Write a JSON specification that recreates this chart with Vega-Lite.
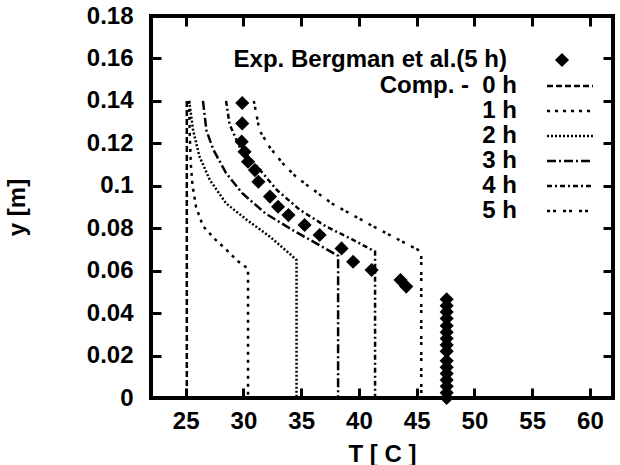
{
  "$schema": "https://vega.github.io/schema/vega-lite/v6.json",
  "width": 462,
  "height": 382,
  "autosize": {"type": "none"},
  "padding": {"left": 151, "top": 16, "right": 7, "bottom": 67},
  "background": "white",
  "config": {
    "font": "Liberation Sans",
    "view": {"stroke": "black", "strokeWidth": 4},
    "axis": {
      "labelFont": "Liberation Sans",
      "labelFontSize": 24,
      "labelFontWeight": "bold",
      "labelColor": "black",
      "titleFont": "Liberation Sans",
      "titleFontSize": 24,
      "titleFontWeight": "bold",
      "titleColor": "black",
      "grid": false,
      "domain": false,
      "ticks": true,
      "tickColor": "black",
      "tickOpacity": 1,
      "tickWidth": 3,
      "tickSize": 10,
      "offset": -10,
      "zindex": 2
    },
    "legend": {
      "labelFont": "Liberation Sans",
      "labelFontSize": 24,
      "labelFontWeight": "bold",
      "labelColor": "black",
      "labelAlign": "right",
      "labelLimit": 400,
      "padding": 0
    }
  },
  "datasets": {
    "comp": [
      {"run": "Comp. -\u00a0 0 h", "T": 25.1, "y": 0.14},
      {"run": "Comp. -\u00a0 0 h", "T": 25.1, "y": 0.0},

      {"run": "1 h", "T": 25.3, "y": 0.14},
      {"run": "1 h", "T": 25.35, "y": 0.125},
      {"run": "1 h", "T": 25.45, "y": 0.11},
      {"run": "1 h", "T": 25.6, "y": 0.1},
      {"run": "1 h", "T": 25.9, "y": 0.09},
      {"run": "1 h", "T": 26.5, "y": 0.081},
      {"run": "1 h", "T": 27.6, "y": 0.0745},
      {"run": "1 h", "T": 28.5, "y": 0.07},
      {"run": "1 h", "T": 29.5, "y": 0.0645},
      {"run": "1 h", "T": 30.4, "y": 0.061},
      {"run": "1 h", "T": 30.4, "y": 0.0},

      {"run": "2 h", "T": 25.3, "y": 0.14},
      {"run": "2 h", "T": 25.65, "y": 0.126},
      {"run": "2 h", "T": 26.2, "y": 0.1137},
      {"run": "2 h", "T": 27.1, "y": 0.1027},
      {"run": "2 h", "T": 28.5, "y": 0.0917},
      {"run": "2 h", "T": 30.3, "y": 0.0839},
      {"run": "2 h", "T": 32.3, "y": 0.076},
      {"run": "2 h", "T": 34.0, "y": 0.068},
      {"run": "2 h", "T": 34.6, "y": 0.065},
      {"run": "2 h", "T": 34.6, "y": 0.0},

      {"run": "3 h", "T": 26.5, "y": 0.14},
      {"run": "3 h", "T": 26.8, "y": 0.126},
      {"run": "3 h", "T": 27.4, "y": 0.117},
      {"run": "3 h", "T": 28.5, "y": 0.106},
      {"run": "3 h", "T": 29.9, "y": 0.0965},
      {"run": "3 h", "T": 31.9, "y": 0.087},
      {"run": "3 h", "T": 34.3, "y": 0.079},
      {"run": "3 h", "T": 36.3, "y": 0.0729},
      {"run": "3 h", "T": 38.2, "y": 0.067},
      {"run": "3 h", "T": 38.2, "y": 0.0},

      {"run": "4 h", "T": 28.5, "y": 0.14},
      {"run": "4 h", "T": 28.8, "y": 0.129},
      {"run": "4 h", "T": 29.7, "y": 0.118},
      {"run": "4 h", "T": 31.2, "y": 0.109},
      {"run": "4 h", "T": 32.9, "y": 0.098},
      {"run": "4 h", "T": 34.9, "y": 0.0886},
      {"run": "4 h", "T": 37.2, "y": 0.0807},
      {"run": "4 h", "T": 39.5, "y": 0.0745},
      {"run": "4 h", "T": 41.4, "y": 0.069},
      {"run": "4 h", "T": 41.4, "y": 0.0},

      {"run": "5 h", "T": 30.9, "y": 0.14},
      {"run": "5 h", "T": 31.4, "y": 0.126},
      {"run": "5 h", "T": 32.3, "y": 0.118},
      {"run": "5 h", "T": 33.4, "y": 0.1106},
      {"run": "5 h", "T": 34.6, "y": 0.104},
      {"run": "5 h", "T": 37.7, "y": 0.0915},
      {"run": "5 h", "T": 41.3, "y": 0.0807},
      {"run": "5 h", "T": 45.4, "y": 0.069},
      {"run": "5 h", "T": 45.4, "y": 0.0}
    ],
    "exp": [
      {"src": "Exp. Bergman et al.(5 h)", "T": 29.9, "y": 0.139},
      {"src": "Exp. Bergman et al.(5 h)", "T": 29.9, "y": 0.1294},
      {"src": "Exp. Bergman et al.(5 h)", "T": 29.85, "y": 0.1208},
      {"src": "Exp. Bergman et al.(5 h)", "T": 30.1, "y": 0.116},
      {"src": "Exp. Bergman et al.(5 h)", "T": 30.4, "y": 0.1113},
      {"src": "Exp. Bergman et al.(5 h)", "T": 31.0, "y": 0.1074},
      {"src": "Exp. Bergman et al.(5 h)", "T": 31.3, "y": 0.1019},
      {"src": "Exp. Bergman et al.(5 h)", "T": 32.3, "y": 0.0949},
      {"src": "Exp. Bergman et al.(5 h)", "T": 33.0, "y": 0.0901},
      {"src": "Exp. Bergman et al.(5 h)", "T": 33.9, "y": 0.0862},
      {"src": "Exp. Bergman et al.(5 h)", "T": 35.3, "y": 0.0815},
      {"src": "Exp. Bergman et al.(5 h)", "T": 36.6, "y": 0.0768},
      {"src": "Exp. Bergman et al.(5 h)", "T": 38.5, "y": 0.0705},
      {"src": "Exp. Bergman et al.(5 h)", "T": 39.5, "y": 0.0642},
      {"src": "Exp. Bergman et al.(5 h)", "T": 41.1, "y": 0.0603},
      {"src": "Exp. Bergman et al.(5 h)", "T": 43.6, "y": 0.0556},
      {"src": "Exp. Bergman et al.(5 h)", "T": 44.1, "y": 0.0525},
      {"src": "Exp. Bergman et al.(5 h)", "T": 47.6, "y": 0.0465},
      {"src": "Exp. Bergman et al.(5 h)", "T": 47.6, "y": 0.0435},
      {"src": "Exp. Bergman et al.(5 h)", "T": 47.6, "y": 0.0405},
      {"src": "Exp. Bergman et al.(5 h)", "T": 47.6, "y": 0.0375},
      {"src": "Exp. Bergman et al.(5 h)", "T": 47.6, "y": 0.034},
      {"src": "Exp. Bergman et al.(5 h)", "T": 47.6, "y": 0.031},
      {"src": "Exp. Bergman et al.(5 h)", "T": 47.6, "y": 0.028},
      {"src": "Exp. Bergman et al.(5 h)", "T": 47.6, "y": 0.025},
      {"src": "Exp. Bergman et al.(5 h)", "T": 47.6, "y": 0.022},
      {"src": "Exp. Bergman et al.(5 h)", "T": 47.6, "y": 0.0175},
      {"src": "Exp. Bergman et al.(5 h)", "T": 47.6, "y": 0.0145},
      {"src": "Exp. Bergman et al.(5 h)", "T": 47.6, "y": 0.0115},
      {"src": "Exp. Bergman et al.(5 h)", "T": 47.6, "y": 0.0085},
      {"src": "Exp. Bergman et al.(5 h)", "T": 47.6, "y": 0.0055},
      {"src": "Exp. Bergman et al.(5 h)", "T": 47.6, "y": 0.0025},
      {"src": "Exp. Bergman et al.(5 h)", "T": 47.6, "y": 0.0}
    ]
  },
  "layer": [
    {
      "data": {"name": "comp"},
      "mark": {"type": "line", "stroke": "black", "strokeWidth": 2.5, "strokeCap": "butt", "clip": true},
      "encoding": {
        "x": {
          "field": "T", "type": "quantitative",
          "scale": {"domain": [22, 62], "nice": false, "zero": false},
          "axis": {"values": [25, 30, 35, 40, 45, 50, 55, 60], "title": "T [ C ]", "labelPadding": 11, "titlePadding": 9}
        },
        "y": {
          "field": "y", "type": "quantitative",
          "scale": {"domain": [0, 0.18], "nice": false, "zero": false},
          "axis": {"values": [0, 0.02, 0.04, 0.06, 0.08, 0.1, 0.12, 0.14, 0.16, 0.18], "format": "~g", "title": "y [m]", "labelPadding": 18, "titlePadding": 57}
        },
        "strokeDash": {
          "field": "run", "type": "nominal",
          "scale": {
            "domain": ["Comp. -\u00a0 0 h", "1 h", "2 h", "3 h", "4 h", "5 h"],
            "range": [[6, 3], [3, 5], [2, 2], [9, 3, 2, 3], [5, 3, 2, 3], [3, 3, 3, 7]]
          },
          "legend": {
            "title": null, "orient": "none", "legendX": 407, "legendY": 58,
            "symbolType": "M-4,0H4", "symbolSize": 132, "symbolStrokeWidth": 2.5,
            "symbolStrokeColor": "black", "symbolFillColor": "transparent",
            "labelOffset": -65, "rowPadding": 1
          }
        },
        "order": {"field": "y", "sort": "descending"}
      }
    },
    {
      "data": {"name": "exp"},
      "mark": {"type": "point", "shape": "diamond", "filled": true, "color": "black", "opacity": 1, "size": 200, "strokeWidth": 0},
      "encoding": {
        "x": {
          "field": "T", "type": "quantitative",
          "axis": {"orient": "top", "values": [25, 30, 35, 40, 45, 50, 55, 60], "labels": false, "title": null}
        },
        "y": {
          "field": "y", "type": "quantitative",
          "axis": {"orient": "right", "values": [0, 0.02, 0.04, 0.06, 0.08, 0.1, 0.12, 0.14, 0.16, 0.18], "labels": false, "title": null}
        },
        "shape": {
          "field": "src", "type": "nominal",
          "scale": {"range": ["diamond"]},
          "legend": {
            "title": null, "orient": "none", "legendX": 399, "legendY": 32,
            "symbolSize": 200, "symbolFillColor": "black", "symbolStrokeWidth": 0,
            "symbolOpacity": 1, "labelOffset": -67
          }
        }
      }
    }
  ],
  "resolve": {"axis": {"x": "independent", "y": "independent"}}
}
